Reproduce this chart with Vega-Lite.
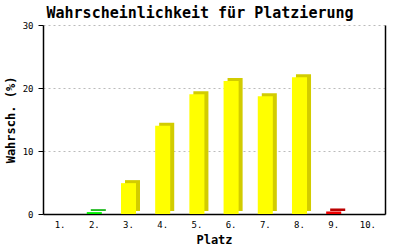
{
  "$schema": "https://vega.github.io/schema/vega-lite/v6.json",
  "width": 342,
  "height": 189,
  "autosize": "none",
  "padding": {"left": 43, "top": 25, "right": 15, "bottom": 36},
  "background": "white",
  "title": {"text": "Wahrscheinlichkeit für Platzierung", "font": "DejaVu Sans Mono", "fontSize": 15, "fontWeight": "bold", "anchor": "middle", "frame": "group", "offset": 0, "dx": -14, "color": "black"},
  "data": {"values": [
    {"platz": "1.", "wert": 0, "status": "normal"},
    {"platz": "2.", "wert": 0.3, "status": "gruen"},
    {"platz": "3.", "wert": 4.9, "status": "normal"},
    {"platz": "4.", "wert": 14.0, "status": "normal"},
    {"platz": "5.", "wert": 19.0, "status": "normal"},
    {"platz": "6.", "wert": 21.1, "status": "normal"},
    {"platz": "7.", "wert": 18.7, "status": "normal"},
    {"platz": "8.", "wert": 21.7, "status": "normal"},
    {"platz": "9.", "wert": 0.4, "status": "rot"},
    {"platz": "10.", "wert": 0, "status": "normal"}
  ]},
  "encoding": {
    "x": {"field": "platz", "type": "ordinal", "sort": null,
      "scale": {"paddingInner": 0.56, "paddingOuter": 0.28},
      "axis": {"title": "Platz", "labelAngle": 0, "ticks": false, "labelPadding": 6, "labelFont": "DejaVu Sans Mono", "labelFontSize": 9, "labelColor": "black", "titleFont": "DejaVu Sans Mono", "titleFontSize": 12, "titleFontWeight": "bold", "titleColor": "black", "titlePadding": 5, "domainColor": "black", "domainWidth": 1.5}
    }
  },
  "layer": [
    {
      "mark": {"type": "bar", "xOffset": 4, "yOffset": -3, "y2Offset": -2},
      "encoding": {
        "y": {"field": "wert", "type": "quantitative", "scale": {"domain": [0, 30]},
          "axis": {"orient": "right", "title": null, "labels": false, "ticks": false, "grid": false, "domainColor": "black", "domainWidth": 1.5}},
        "color": {"field": "status", "type": "nominal", "legend": null,
          "scale": {"domain": ["normal", "gruen", "rot"], "range": ["#d2cc00", "#22bb22", "#bb0000"]}}
      }
    },
    {
      "mark": {"type": "bar"},
      "encoding": {
        "y": {"field": "wert", "type": "quantitative", "scale": {"domain": [0, 30]},
          "axis": {"title": "Wahrsch. (%)", "values": [0, 10, 20, 30], "tickSize": 5, "tickColor": "black", "labelFont": "DejaVu Sans Mono", "labelFontSize": 9, "labelColor": "black", "labelPadding": 5, "titleFont": "DejaVu Sans Mono", "titleFontSize": 12, "titleFontWeight": "bold", "titleColor": "black", "titlePadding": 5, "domainColor": "black", "domainWidth": 1.5, "grid": true, "gridColor": "#bbbbbb", "gridDash": [2, 3]}},
        "color": {"field": "status", "type": "nominal", "legend": null,
          "scale": {"domain": ["normal", "gruen", "rot"], "range": ["#ffff00", "#00ee00", "#ee0000"]}}
      }
    }
  ],
  "resolve": {"scale": {"y": "independent", "color": "independent"}},
  "config": {"view": {"stroke": null}}
}
